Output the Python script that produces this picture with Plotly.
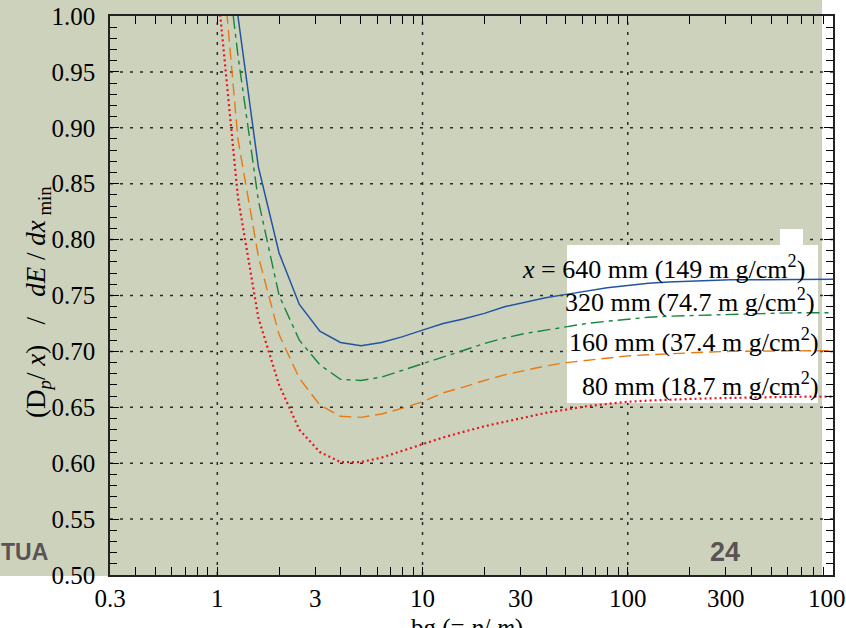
import math
import plotly.graph_objects as go

# beta*gamma sampling points (ten per decade)
bg_values = [1.0, 1.26, 1.585, 2.0, 2.51, 3.16, 3.98, 5.01, 6.31, 7.94,
             10, 12.6, 15.8, 20, 25.1, 31.6, 39.8, 50.1, 63.1, 79.4,
             100, 126, 158, 200, 251, 316, 398, 501, 631, 794, 1000]

# most probable loss per unit thickness, relative to dE/dx at minimum
ratio_640um = [1.25, 1.00, 0.865, 0.788, 0.742, 0.718, 0.708, 0.705, 0.708, 0.713,
               0.719, 0.725, 0.729, 0.734, 0.740, 0.744, 0.748, 0.751, 0.754, 0.757,
               0.759, 0.761, 0.762, 0.763, 0.7635, 0.764, 0.764, 0.7642, 0.7645, 0.7645, 0.7645]
ratio_320um = [1.12, 0.965, 0.835, 0.750, 0.710, 0.688, 0.675, 0.674, 0.677, 0.683,
               0.689, 0.695, 0.701, 0.707, 0.712, 0.716, 0.719, 0.722, 0.725, 0.727,
               0.729, 0.7305, 0.7315, 0.732, 0.733, 0.7335, 0.734, 0.7345, 0.7345, 0.7346, 0.7346]
ratio_160um = [1.10, 0.89, 0.785, 0.715, 0.676, 0.652, 0.642, 0.641, 0.644, 0.649,
               0.655, 0.663, 0.668, 0.674, 0.679, 0.683, 0.687, 0.690, 0.692, 0.694,
               0.696, 0.697, 0.698, 0.699, 0.6995, 0.700, 0.7003, 0.7005, 0.7006, 0.7006, 0.7006]
ratio_80um = [1.028, 0.838, 0.730, 0.670, 0.630, 0.610, 0.601, 0.601, 0.605, 0.611,
              0.617, 0.623, 0.628, 0.633, 0.637, 0.641, 0.645, 0.648, 0.651, 0.653,
              0.655, 0.656, 0.657, 0.6575, 0.658, 0.6585, 0.659, 0.6592, 0.6594, 0.6595, 0.6595]

x_tick_vals = [0.3, 1, 3, 10, 30, 100, 300, 1000]
x_tick_text = ["0.3", "1", "3", "10", "30", "100", "300", "1000"]
x_grid_vals = [1, 10, 100]
y_grid_vals = [0.55, 0.60, 0.65, 0.70, 0.75, 0.80, 0.85, 0.90, 0.95]

curve_labels = [
    "<i>x</i> = 640 mm (149 m g/cm<sup>2</sup>)",
    "320 mm (74.7 m g/cm<sup>2</sup>)",
    "160 mm (37.4 m g/cm<sup>2</sup>)",
    "80 mm (18.7 m g/cm<sup>2</sup>)",
]

W, H = 846, 628
L, R, T, B = 110, 13, 16, 53
PW, PH = W - L - R, H - T - B
X_LO, X_HI = math.log10(0.3), 3.0
Y_LO, Y_HI = 0.5, 1.0


def px(x):
    return (x - L) / PW


def py(y):
    return (H - B - y) / PH


def xlog(v):
    return (math.log10(v) - X_LO) / (X_HI - X_LO)


def ylin(v):
    return (v - Y_LO) / (Y_HI - Y_LO)


GRID = "#2a2a2a"
GRID_DASH = "3px,7px"
BG = "#cdd2bc"
SERIF = "Liberation Serif"
NB = "\u00a0"

fig = go.Figure()

styles = [
    (ratio_640um, "#2354a4", "solid", 1.5),
    (ratio_320um, "#17853c", "13px,5px,4px,5px", 1.4),
    (ratio_160um, "#e87a12", "12px,6px", 1.4),
    (ratio_80um, "#e8141c", "2px,3px", 2.2),
]
for vals, color, dash, width in styles:
    fig.add_trace(go.Scatter(x=bg_values, y=vals, mode="lines",
                             line=dict(color=color, dash=dash, width=width),
                             hoverinfo="skip"))

shapes = [
    # tinted page background (left/top part of the canvas)
    dict(type="rect", xref="paper", yref="paper", x0=px(0), x1=px(822), y0=py(576), y1=py(0),
         fillcolor=BG, line=dict(width=0), layer="below"),
]
# dotted grid: decades in x, every 0.05 in y
for v in x_grid_vals:
    shapes.append(dict(type="line", xref="paper", yref="paper", x0=xlog(v), x1=xlog(v), y0=0, y1=1,
                       line=dict(color=GRID, width=1.5, dash=GRID_DASH), layer="below"))
for v in y_grid_vals:
    shapes.append(dict(type="line", xref="paper", yref="paper", x0=0, x1=1, y0=ylin(v), y1=ylin(v),
                       line=dict(color=GRID, width=1.5, dash=GRID_DASH), layer="below"))
# white backing for the curve labels (covers the grid, stays under the curves)
shapes.append(dict(type="rect", xref="paper", yref="paper", x0=px(567), x1=px(818),
                   y0=py(403), y1=py(245), fillcolor="white", line=dict(width=0), layer="below"))
shapes.append(dict(type="rect", xref="paper", yref="paper", x0=px(780), x1=px(803),
                   y0=py(245), y1=py(229), fillcolor="white", line=dict(width=0), layer="below"))

label_pos = [(520, 267), (563, 300), (567, 340), (580, 384)]
annotations = []
for text, (lx, ly) in zip(curve_labels, label_pos):
    annotations.append(dict(text=text, xref="paper", yref="paper", x=px(lx), y=py(ly),
                            xanchor="left", yanchor="middle", showarrow=False,
                            font=dict(family=SERIF, size=26, color="black")))

y_title = ("(D<sub><i>p</i></sub>/" + NB + "<i>x</i>)" + NB * 3 + "/" + NB * 3
           + "<i>dE</i>" + NB + "/" + NB + "<i>dx</i><sub>" + NB + "min</sub>")
annotations += [
    dict(text=y_title, xref="paper", yref="paper", x=px(38), y=py(302), textangle=-90,
         xanchor="center", yanchor="middle", showarrow=False,
         font=dict(family=SERIF, size=27, color="black")),
    dict(text="bg (= <i>p</i>/ <i>m</i>)", xref="paper", yref="paper", x=px(467), y=py(612),
         xanchor="center", yanchor="top", showarrow=False,
         font=dict(family=SERIF, size=25, color="black")),
    dict(text="<b>TUA</b>", xref="paper", yref="paper", x=px(-1), y=py(552),
         xanchor="left", yanchor="middle", showarrow=False,
         font=dict(family="Liberation Sans", size=23, color="#5a5254")),
    dict(text="<b>24</b>", xref="paper", yref="paper", x=px(725), y=py(552),
         xanchor="center", yanchor="middle", showarrow=False,
         font=dict(family="Liberation Sans", size=27, color="#5a5254")),
]

minor_x = [m * 10 ** e for e in range(-1, 3) for m in range(2, 10)
           if 0.3 < m * 10 ** e < 1000 and m != 3]

fig.update_layout(
    width=W, height=H,
    margin=dict(l=L, r=R, t=T, b=B, pad=0, autoexpand=False),
    paper_bgcolor="white", plot_bgcolor="rgba(0,0,0,0)",
    showlegend=False,
    font=dict(family=SERIF, size=25, color="black"),
    shapes=shapes, annotations=annotations,
    xaxis=dict(type="log", range=[X_LO, X_HI], tickmode="array", automargin=False,
               tickvals=x_tick_vals, ticktext=x_tick_text, ticklabeloverflow="allow",
               ticks="inside", ticklen=8, tickwidth=1, tickcolor="black",
               showline=True, linecolor="#222", linewidth=1.5, mirror="allticks",
               showgrid=False, zeroline=False, ticklabelstandoff=0,
               minor=dict(tickmode="array", tickvals=minor_x, ticks="inside", ticklen=8,
                          tickwidth=1, tickcolor="black", showgrid=False)),
    yaxis=dict(range=[Y_LO, Y_HI], tick0=0.5, dtick=0.05, tickformat=".2f", automargin=False,
               ticks="inside", ticklen=9, tickwidth=1, tickcolor="black",
               showline=True, linecolor="#222", linewidth=1.5, mirror="allticks",
               showgrid=False, zeroline=False, ticklabelstandoff=8,
               minor=dict(dtick=0.01, ticks="inside", ticklen=7, tickwidth=1,
                          tickcolor="black", showgrid=False)),
)

fig.write_html("out.html")
